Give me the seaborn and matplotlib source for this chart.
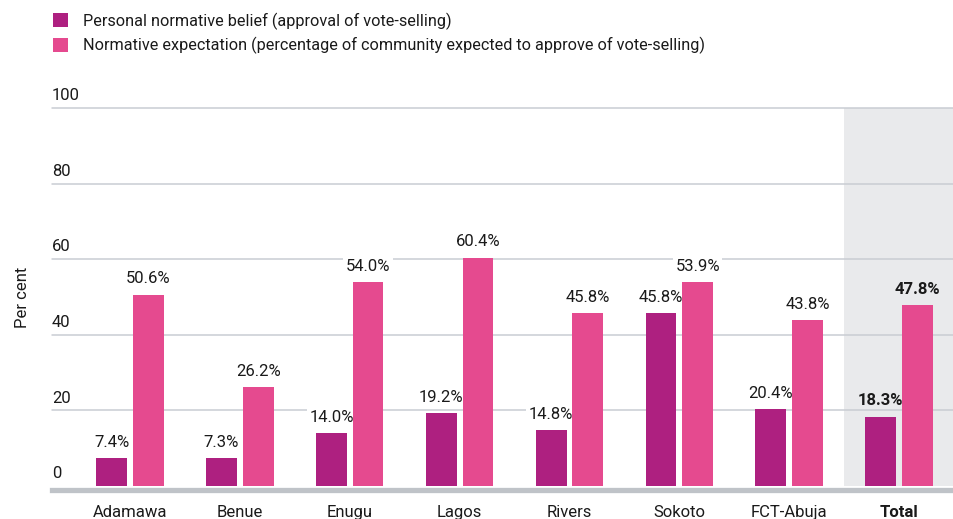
import matplotlib
matplotlib.use("Agg")
import matplotlib.pyplot as plt
import seaborn as sns
import pandas as pd
from matplotlib.patches import Patch

regions = ["Adamawa", "Benue", "Enugu", "Lagos", "Rivers", "Sokoto", "FCT-Abuja", "Total"]
personal = [7.4, 7.3, 14.0, 19.2, 14.8, 45.8, 20.4, 18.3]
expectation = [50.6, 26.2, 54.0, 60.4, 45.8, 53.9, 43.8, 47.8]
series = ["Personal normative belief (approval of vote-selling)",
          "Normative expectation (percentage of community expected to approve of vote-selling)"]
yticks = [0, 20, 40, 60, 80, 100]

c_dark = "#AE2080"
c_pink = "#E54A8F"
grid_c = "#C9CDD3"
txt_c = "#1a1a1a"

df = pd.DataFrame({
    "region": regions * 2,
    "value": personal + expectation,
    "series": [series[0]] * len(regions) + [series[1]] * len(regions),
})

sns.set_theme(style="white")
plt.rcParams["font.family"] = ["Roboto", "DejaVu Sans"]

W, H = 954, 519
fig = plt.figure(figsize=(W / 100, H / 100), dpi=100)
y0, y100 = 486, 108
ax = fig.add_axes([52 / W, (H - y0) / H, 1 - 52 / W, (y0 - y100) / H])

ax.axvspan(6.5, 7.5, color="#E9EAEC", zorder=0, lw=0)
for t in yticks[1:]:
    ax.axhline(t, color=grid_c, lw=1.1, zorder=0.5, clip_on=False)

sns.barplot(data=df, x="region", y="value", hue="series", order=regions,
            hue_order=series, palette=[c_dark, c_pink], width=0.667, gap=0.16,
            ax=ax, legend=False, saturation=1, zorder=2, linewidth=0,
            edgecolor="none")

ax.set_xlim(-0.71, 7.5)
ax.set_ylim(0, 100)
ax.set_yticks([])
ax.set_ylabel("Per cent", fontsize=12, color=txt_c, labelpad=16)
ax.set_xlabel("")
for s in ["top", "right", "left"]:
    ax.spines[s].set_visible(False)
ax.spines["bottom"].set_color("#BFC3C8")
ax.spines["bottom"].set_linewidth(3.8)
ax.spines["bottom"].set_position(("outward", 2.6))
ax.spines["bottom"].set_zorder(3)
ax.tick_params(axis="x", length=0, pad=11, labelsize=12, labelcolor=txt_c)
for lbl in ax.get_xticklabels():
    if lbl.get_text() == "Total":
        lbl.set_fontweight("bold")

for t in yticks:
    ax.annotate(str(t), xy=(0, t), xycoords=("axes fraction", "data"),
                xytext=(0, 3.5), textcoords="offset points",
                ha="left", va="bottom", fontsize=12, color=txt_c)

for i, cont in enumerate(ax.containers):
    for j, bar in enumerate(cont):
        v = bar.get_height()
        is_total = regions[j] == "Total"
        ax.annotate(f"{v:.1f}%", xy=(bar.get_x() + bar.get_width() / 2, v),
                    xytext=(0, 6), textcoords="offset points",
                    ha="center", va="bottom", fontsize=12, color=txt_c,
                    fontweight="bold" if is_total else "normal",
                    bbox=None if is_total else dict(boxstyle="square,pad=0.15", fc="white", ec="none"),
                    zorder=1.5)

handles = [Patch(facecolor=c_dark, edgecolor="none"), Patch(facecolor=c_pink, edgecolor="none")]
fig.legend(handles, series, loc="upper left", bbox_to_anchor=(38 / W, 1 + 2 / H),
           frameon=False, fontsize=11.7, handlelength=0.95, handleheight=0.95,
           handletextpad=0.9, labelspacing=0.45, labelcolor=txt_c)

fig.savefig("out.png", dpi=100)
